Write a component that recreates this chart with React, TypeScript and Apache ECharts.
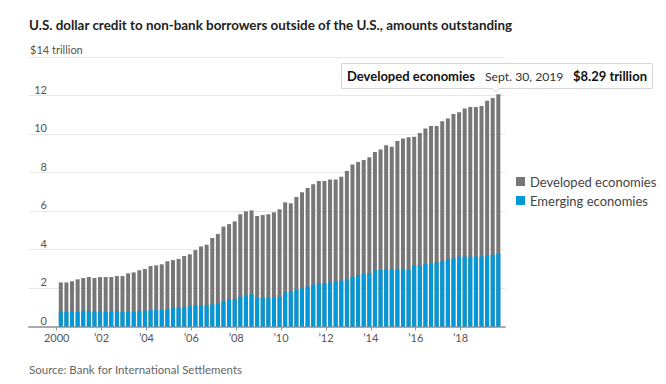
import React, { useEffect, useRef } from "react";
import * as echarts from "echarts";

// Quarterly observations, 2000 Q1 – 2019 Q3
const quarters: string[] = [];
for (let y = 2000; y <= 2019; y++) {
  for (let q = 1; q <= 4; q++) {
    if (y === 2019 && q === 4) break;
    quarters.push(`${y} Q${q}`);
  }
}

// $ trillion
const emerging = [
  0.77, 0.77, 0.77, 0.77, 0.82, 0.82, 0.77, 0.77, 0.77, 0.77, 0.81, 0.77, 0.77, 0.77, 0.82, 0.82,
  0.86, 0.87, 0.87, 0.91, 0.96, 0.98, 1.01, 1.06, 1.1, 1.1, 1.1, 1.15, 1.2, 1.29, 1.38, 1.43,
  1.55, 1.62, 1.67, 1.5, 1.5, 1.5, 1.5, 1.55, 1.77, 1.83, 1.93, 1.98, 2.07, 2.17, 2.23, 2.26,
  2.29, 2.33, 2.38, 2.44, 2.59, 2.68, 2.73, 2.78, 2.92, 2.95, 2.95, 2.95, 2.95, 3.0, 2.95, 3.19,
  3.19, 3.25, 3.28, 3.33, 3.38, 3.49, 3.54, 3.64, 3.63, 3.63, 3.63, 3.64, 3.7, 3.73, 3.77,
];

const developed = [
  1.52, 1.52, 1.58, 1.68, 1.7, 1.75, 1.75, 1.8, 1.8, 1.8, 1.81, 1.85, 1.99, 2.04, 2.1, 2.17,
  2.28, 2.31, 2.36, 2.48, 2.49, 2.53, 2.65, 2.69, 2.87, 3.06, 3.15, 3.45, 3.61, 3.9, 3.94, 4.03,
  4.28, 4.36, 4.36, 4.24, 4.29, 4.33, 4.43, 4.54, 4.68, 4.57, 4.8, 4.99, 5.12, 5.22, 5.33, 5.3,
  5.35, 5.31, 5.4, 5.64, 5.83, 5.87, 5.92, 6.01, 6.14, 6.25, 6.46, 6.39, 6.69, 6.77, 6.88, 6.67,
  6.86, 7.03, 7.14, 7.09, 7.28, 7.31, 7.5, 7.49, 7.69, 7.77, 7.77, 7.81, 8.03, 8.14, 8.29,
];

const xTickYears = [2000, 2002, 2004, 2006, 2008, 2010, 2012, 2014, 2016, 2018];
const yTickValues = [0, 2, 4, 6, 8, 10, 12];

const BLUE = "#0098d8";
const GRAY = "#777777";
const FONT = "Lato, 'Noto Sans', sans-serif";

// bar placed a little before the end of its quarter
const quarterPos = (label: string) => {
  const [y, q] = label.split(" Q");
  return Number(y) + (Number(q) - 1) / 4 + 0.183;
};

export default function App() {
  const ref = useRef<HTMLDivElement>(null);

  useEffect(() => {
    if (!ref.current) return;
    const chart = echarts.init(ref.current, undefined, { renderer: "svg" });
    const lastIdx = quarters.length - 1;
    const lastVal = developed[lastIdx];

    chart.setOption({
      animation: false,
      grid: { left: 29, right: 161, top: 57, bottom: 57.5 },
      xAxis: {
        type: "value",
        min: 1998.766,
        max: 2019.98,
        splitLine: { show: false },
        axisLine: { show: true, lineStyle: { color: "#aaaaaa", width: 2 } },
        axisTick: {
          show: true,
          customValues: xTickYears,
          length: 4,
          lineStyle: { color: "#999999" },
        },
        axisLabel: {
          customValues: xTickYears,
          margin: 5,
          color: "#555555",
          fontFamily: FONT,
          fontSize: 11,
          formatter: (v: number) => (v === 2000 ? "2000" : "\u2019" + String(v).slice(2)),
        },
      },
      yAxis: {
        type: "value",
        min: 0,
        max: 14,
        interval: 2,
        splitLine: { show: true, lineStyle: { color: "#e6e6e6", width: 1 } },
        axisLine: { show: false },
        axisTick: { show: false },
        axisLabel: {
          inside: true,
          align: "right",
          verticalAlign: "bottom",
          margin: 18,
          customValues: yTickValues,
          color: "#555555",
          fontFamily: FONT,
          fontSize: 11,
          padding: [0, 0, 1, 0],
        },
      },
      legend: {
        orient: "vertical",
        left: 516,
        top: 172,
        padding: 0,
        itemWidth: 9,
        itemHeight: 9,
        itemGap: 0,
        icon: "rect",
        data: ["Developed economies", "Emerging economies"],
        textStyle: { color: "#444444", fontFamily: FONT, fontSize: 13, lineHeight: 19 },
      },
      series: [
        {
          // gray segment sits on top of the blue one: drawn as the full stack height
          name: "Developed economies",
          type: "bar",
          barWidth: 4,
          barGap: "-100%",
          itemStyle: { color: GRAY },
          data: quarters.map((q, i) => [quarterPos(q), emerging[i] + developed[i]]),
        },
        {
          name: "Emerging economies",
          type: "bar",
          barWidth: 4,
          barGap: "-100%",
          itemStyle: { color: BLUE },
          data: quarters.map((q, i) => [quarterPos(q), emerging[i]]),
        },
      ],
      graphic: [
        {
          type: "text",
          left: 29,
          top: 18,
          style: {
            text: "U.S. dollar credit to non-bank borrowers outside of the U.S., amounts outstanding",
            fill: "#222222",
            font: `bold 13.4px ${FONT}`,
          },
        },
        {
          type: "text",
          left: 30,
          top: 44,
          style: { text: "$14 trillion", fill: "#555555", font: `11px ${FONT}` },
        },
        {
          type: "text",
          left: 29,
          top: 363,
          style: {
            text: "Source: Bank for International Settlements",
            fill: "#666666",
            font: `11.5px ${FONT}`,
          },
        },
        {
          type: "group",
          children: [
            {
              type: "rect",
              shape: { x: 341.5, y: 63.5, width: 311, height: 25 },
              style: { fill: "#ffffff", stroke: "#d6d6d6", lineWidth: 1 },
              z: 10,
            },
            {
              type: "polygon",
              shape: { points: [[492.5, 88], [499.5, 88], [496, 92]] },
              style: { fill: "#ffffff", stroke: null },
              z: 11,
            },
            {
              type: "polyline",
              shape: { points: [[492.5, 88.5], [496, 92], [499.5, 88.5]] },
              style: { stroke: "#d6d6d6", lineWidth: 1, fill: null },
              z: 11,
            },
            {
              type: "text",
              x: 347,
              y: 76,
              style: {
                text: "Developed economies",
                fill: "#111111",
                font: `bold 13px ${FONT}`,
                verticalAlign: "middle",
              },
              z: 12,
            },
            {
              type: "text",
              x: 485,
              y: 76,
              style: {
                text: "Sept. 30, 2019",
                fill: "#333333",
                font: `12.2px ${FONT}`,
                verticalAlign: "middle",
              },
              z: 12,
            },
            {
              type: "text",
              x: 573,
              y: 76,
              style: {
                text: `$${lastVal.toFixed(2)} trillion`,
                fill: "#111111",
                font: `bold 13px ${FONT}`,
                verticalAlign: "middle",
              },
              z: 12,
            },
          ],
        },
      ],
    });
    return () => chart.dispose();
  }, []);

  return (
    <div
      ref={ref}
      style={{ position: "absolute", left: 0, top: 0, width: 666, height: 384 }}
    />
  );
}
